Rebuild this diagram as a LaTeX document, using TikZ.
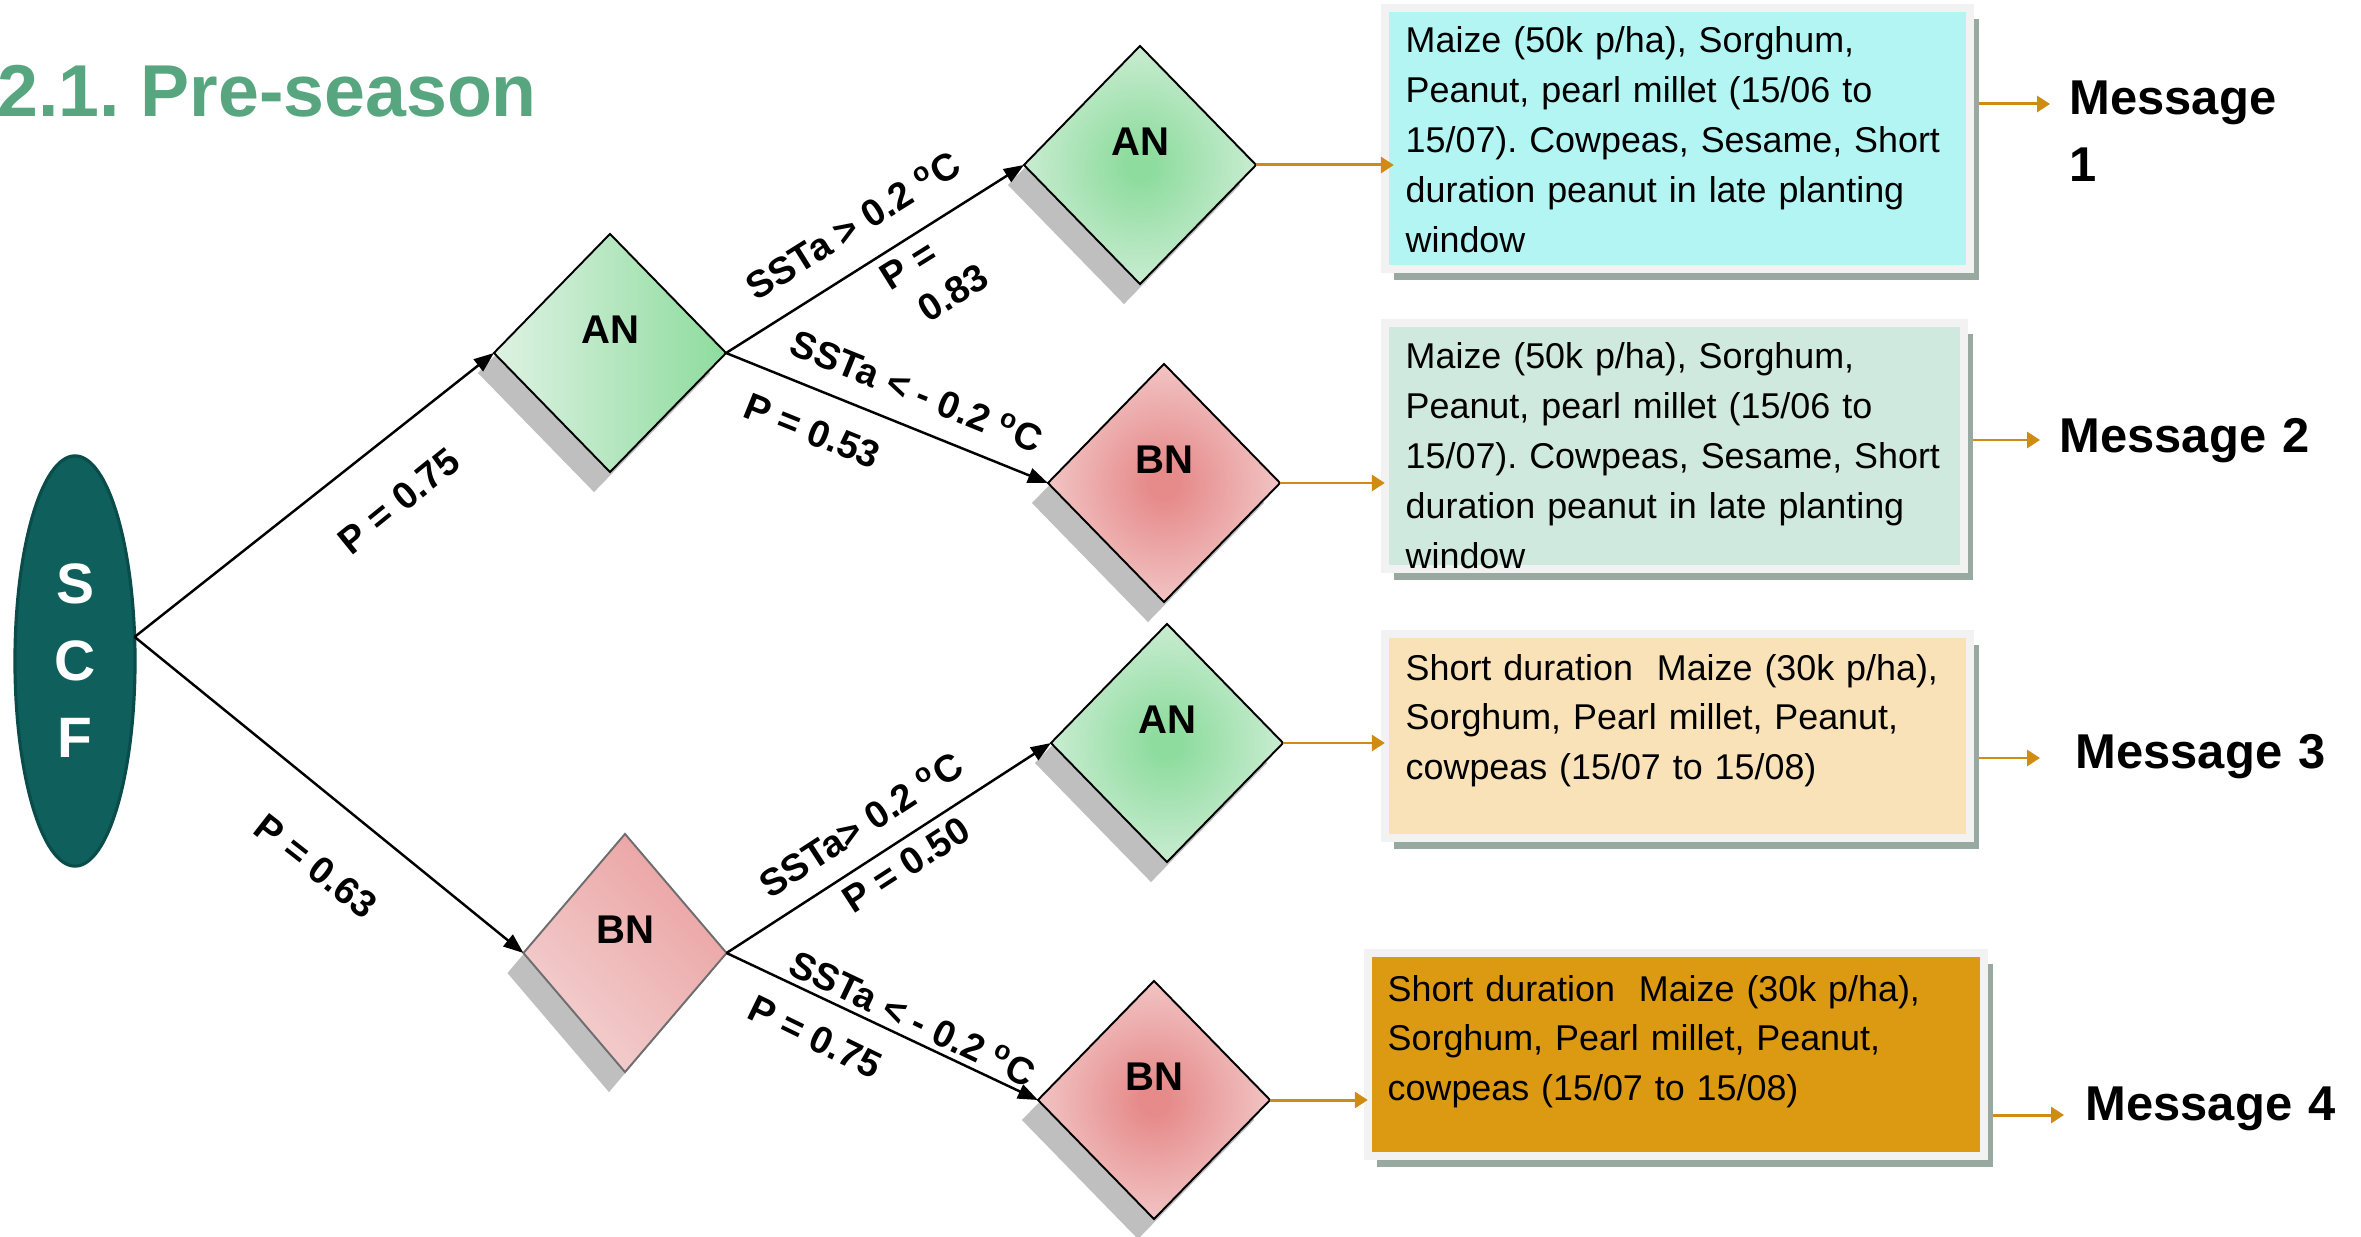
\documentclass[tikz,border=0pt]{standalone}
\usepackage{fontspec}
\setmainfont{Liberation Sans}
\usetikzlibrary{shapes.geometric,arrows.meta,shadows,calc}
\definecolor{titlegreen}{HTML}{57A67F}
\definecolor{scffill}{HTML}{0F605D}
\definecolor{scfdraw}{HTML}{0A4C4A}
\definecolor{greendark}{HTML}{8EDC9E}
\definecolor{greenlight}{HTML}{DEF2E3}
\definecolor{pinkdark}{HTML}{E68A8A}
\definecolor{pinklight}{HTML}{F6D9D9}
\definecolor{pinkmid}{HTML}{EBA2A2}
\definecolor{pinkpale}{HTML}{F3D0D0}
\definecolor{dshadow}{HTML}{BFBFBF}
\definecolor{boxcyan}{HTML}{B3F5F3}
\definecolor{boxmint}{HTML}{D0E9DF}
\definecolor{boxcream}{HTML}{F9E2B8}
\definecolor{boxgold}{HTML}{DC9A12}
\definecolor{boxframe}{HTML}{F2F2F2}
\definecolor{boxshadow}{HTML}{98AA9F}
\definecolor{orangearrow}{HTML}{D08B12}
\definecolor{bnborder}{HTML}{6E6E6E}
\pgfdeclareradialshading{greenrad}{\pgfpoint{0bp}{0bp}}{color(0bp)=(greendark); color(3bp)=(greendark); color(33bp)=(greenlight); color(50bp)=(greenlight)}
\pgfdeclareradialshading{pinkrad}{\pgfpoint{0bp}{0bp}}{color(0bp)=(pinkdark); color(3bp)=(pinkdark); color(33bp)=(pinklight); color(50bp)=(pinklight)}
\begin{document}
\frenchspacing
\begin{tikzpicture}[x=0.01cm,y=-0.01cm,
  dia/.style={diamond, draw=black, line width=0.55pt, inner sep=0pt, outer sep=0pt,
     minimum width=2.32cm, minimum height=2.38cm,
     drop shadow={shadow xshift=-0.16cm, shadow yshift=-0.2cm, fill=dshadow, opacity=1}},
  dlab/.style={font=\fontsize{11.4}{13}\selectfont\bfseries, yshift=0.23cm, inner sep=0pt},
  blk/.style={draw=black, line width=0.7pt, -{Triangle[length=0.2cm,width=0.15cm]}},
  oarr/.style={draw=orangearrow, line width=0.85pt, -{Triangle[length=0.13cm,width=0.16cm]}},
  elab/.style={font=\fontsize{10.8}{13.4}\selectfont\bfseries, inner sep=0pt},
  mbox/.style={draw=boxframe, line width=0.08cm, inner sep=0pt, outer sep=0pt,
     drop shadow={shadow xshift=0.09cm, shadow yshift=-0.11cm, fill=boxshadow, opacity=1}},
  btext/.style={anchor=base west, inner sep=0pt, text width=6cm, align=left,
     font=\fontsize{10.2}{14.2}\selectfont},
  msg/.style={anchor=base west, inner sep=0pt, text width=3cm, align=left,
     font=\fontsize{13.9}{19}\selectfont\bfseries}
]
\useasboundingbox (0,0) rectangle (2361,1237);
\fill[white] (0,0) rectangle (2361,1237);

% title
\node[anchor=base west, inner sep=0pt, text=titlegreen,
      font=\fontsize{20.9}{24}\selectfont\bfseries] (title) at (-3,117) {2.1. Pre-season};

% SCF
\node[ellipse, draw=scfdraw, line width=0.9pt, fill=scffill, minimum width=1.2cm,
      minimum height=4.1cm, inner sep=0pt, outer sep=0pt, text=white, align=center,
      font=\fontsize{16.2}{21.9}\selectfont\bfseries] (scf) at (75,661) {S\\C\\F};

% diamonds
\node[dia, left color=greenlight, right color=greendark, label={[dlab]center:AN}] (an1) at (610,353) {};
\node[dia, minimum width=2.03cm, draw=bnborder, left color=pinkpale, right color=pinkmid,
      shading angle=135, label={[dlab]center:BN}] (bn1) at (625,953) {};
\node[dia, shade, shading=greenrad, label={[dlab]center:AN}] (an2) at (1140,165) {};
\node[dia, shade, shading=pinkrad, label={[dlab]center:BN}] (bn2) at (1164,483) {};
\node[dia, shade, shading=greenrad, label={[dlab]center:AN}] (an3) at (1167,743) {};
\node[dia, shade, shading=pinkrad, label={[dlab]center:BN}] (bn4) at (1154,1100) {};

% boxes
\node[mbox, fill=boxcyan, minimum width=5.85cm, minimum height=2.61cm] (b1) at (1677.5,138.5) {};
\node[mbox, fill=boxmint, minimum width=5.79cm, minimum height=2.46cm] (b2) at (1674.5,446) {};
\node[mbox, fill=boxcream, minimum width=5.85cm, minimum height=2.04cm] (b3) at (1677.5,736) {};
\node[mbox, fill=boxgold, minimum width=6.16cm, minimum height=2.03cm] (b4) at (1676,1054.5) {};

\node[btext] (t1) at (1405,53) {Maize (50k p/ha), Sorghum,\\Peanut, pearl millet (15/06 to\\15/07). Cowpeas, Sesame, Short\\duration peanut in late planting\\window};
\node[btext] (t2) at (1405,369) {Maize (50k p/ha), Sorghum,\\Peanut, pearl millet (15/06 to\\15/07). Cowpeas, Sesame, Short\\duration peanut in late planting\\window};
\node[btext] (t3) at (1405,680) {Short duration~ Maize (30k p/ha),\\Sorghum, Pearl millet, Peanut,\\cowpeas (15/07 to 15/08)};
\node[btext] (t4) at (1387,1001) {Short duration~ Maize (30k p/ha),\\Sorghum, Pearl millet, Peanut,\\cowpeas (15/07 to 15/08)};

% messages
\node[msg] (m1) at (2069,115) {Message\\1};
\node[msg] (m2) at (2059,453) {Message 2};
\node[msg] (m3) at (2075,768) {Message 3};
\node[msg] (m4) at (2085,1120) {Message 4};

\coordinate (o1) at (2050,104);
\coordinate (o2) at (2040,440);
\coordinate (o3) at (2040,758);
\coordinate (o4) at (2064,1115);
\draw[oarr, shorten <=0.09cm] (b1.east |- o1) -- (o1);
\draw[oarr, shorten <=0.09cm] (b2.east |- o2) -- (o2);
\draw[oarr, shorten <=0.09cm] (b3.east |- o3) -- (o3);
\draw[oarr, shorten <=0.09cm] (b4.east |- o4) -- (o4);

\draw[oarr, shorten >=-0.09cm] (an2.east) -- (an2.east -| b1.west);
\draw[oarr] (bn2.east) -- (bn2.east -| b2.west);
\draw[oarr] (an3.east) -- (an3.east -| b3.west);
\draw[oarr] (bn4.east) -- (bn4.east -| b4.west);

% black edges
\draw[blk] (scf.22) -- (an1.west);
\draw[blk] (scf.22) -- (bn1.west);
\draw[blk] (an1.east) -- (an2.west);
\draw[blk] (an1.east) -- (bn2.west);
\draw[blk] (bn1.east) -- (an3.west);
\draw[blk] (bn1.east) -- (bn4.west);

% edge labels
\node[elab, rotate=39] (l1) at (399,501) {P = 0.75};
\node[elab, rotate=-38] (l2) at (316,866) {P = 0.63};
\node[elab, rotate=32] (l3) at (853,225) {SSTa > 0.2 \textsuperscript{o}C};
\node[elab, rotate=32, align=left] (l4) at (934,277) {P =\\\hspace*{0.15cm}0.83};
\node[elab, rotate=-22] (l5) at (917,391) {SSTa < - 0.2 \textsuperscript{o}C};
\node[elab, rotate=-22] (l6) at (812,431) {P = 0.53};
\node[elab, rotate=33] (l7) at (861,824) {SSTa> 0.2 \textsuperscript{o}C};
\node[elab, rotate=33] (l8) at (906,865) {P = 0.50};
\node[elab, rotate=-25.5] (l9) at (913,1018) {SSTa < - 0.2 \textsuperscript{o}C};
\node[elab, rotate=-26] (l10) at (815,1037) {P = 0.75};
\end{tikzpicture}
\end{document}
